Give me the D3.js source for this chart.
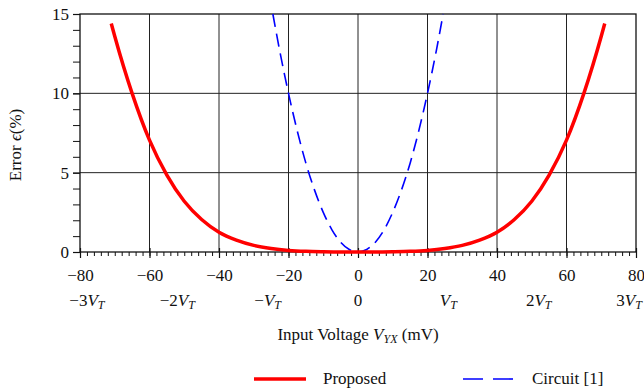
<!DOCTYPE html>
<html>
<head>
<meta charset="utf-8">
<script src="https://cdn.jsdelivr.net/npm/d3@7"></script>
<style>
  body { margin: 0; background: #fff; }
</style>
</head>
<body>
<div id="plot"></div>
<script>
// Data
const xTicks = [-80, -60, -40, -20, 0, 20, 40, 60, 80];
const yTicks = [0, 5, 10, 15];
const vtMultiples = [-3, -2, -1, 0, 1, 2, 3];   // second row of x labels
const vt = 26;                                   // thermal voltage, mV

const proposedX = [-71, -70, -65, -60, -55, -50, -45, -40, -35, -30, -25, -20, -15, -10, -5, 0,
                   5, 10, 15, 20, 25, 30, 35, 40, 45, 50, 55, 60, 65, 70, 71];
const proposedY = [14.4, 13.6, 10.0, 7.05, 4.85, 3.2, 2.05, 1.25, 0.75, 0.42, 0.22, 0.1, 0.04, 0.015, 0.004, 0,
                   0.004, 0.015, 0.04, 0.1, 0.22, 0.42, 0.75, 1.25, 2.05, 3.2, 4.85, 7.05, 10.0, 13.6, 14.4];

const circuitX = [-24.5, -22.5, -20, -17.5, -15, -12.5, -10, -7.5, -5, -2.5, 0,
                  2.5, 5, 7.5, 10, 12.5, 15, 17.5, 20, 22.5, 24.5];
const circuitY = [15.0, 12.65, 10.0, 7.65, 5.6, 3.9, 2.5, 1.4, 0.62, 0.16, 0,
                  0.16, 0.62, 1.4, 2.5, 3.9, 5.6, 7.65, 10.0, 12.65, 15.0];

const seriesNames = ["Proposed", "Circuit [1]"];

const width = 644, height = 392;
const padL = 80, padR = 636, padT = 14, padB = 252;
const fs = 17;
const fontStyle = `font-family: 'Liberation Serif', serif !important; font-size: ${fs}px !important;`;

const svg = d3.select("#plot").append("svg")
  .attr("width", width).attr("height", height);

const x = d3.scaleLinear().domain([-80, 80]).range([padL, padR]);
const y = d3.scaleLinear().domain([0, 15]).range([padB, padT]);

// grid
svg.append("g").selectAll("line")
  .data(xTicks.slice(1, -1)).enter().append("line")
  .attr("x1", d => x(d)).attr("x2", d => x(d))
  .attr("y1", padT).attr("y2", padB)
  .attr("stroke", "#222").attr("stroke-width", 1);
svg.append("g").selectAll("line")
  .data(yTicks.slice(1, -1)).enter().append("line")
  .attr("x1", padL).attr("x2", padR)
  .attr("y1", d => y(d)).attr("y2", d => y(d))
  .attr("stroke", "#222").attr("stroke-width", 1);

// x axis: minor ticks every 2, major ticks every 20
const xAxisG = svg.append("g").attr("transform", `translate(0,${padB})`);
xAxisG.call(d3.axisBottom(x).tickValues(d3.range(-80, 81, 2)).tickSize(4).tickFormat(""));
xAxisG.select(".domain").remove();
xAxisG.selectAll("line").attr("stroke", "#111").attr("stroke-width", 1);
const xMajor = svg.append("g").attr("transform", `translate(0,${padB})`);
xMajor.call(d3.axisBottom(x).tickValues(xTicks).tickSize(6).tickFormat(d => d < 0 ? "\u2212" + (-d) : d));
xMajor.select(".domain").remove();
xMajor.selectAll("line").attr("y1", -4).attr("stroke", "#111").attr("stroke-width", 1.2);
xMajor.selectAll("text").attr("y", 17).attr("fill", "#111");

// second row: multiples of V_T
const vtLabels = svg.append("g").attr("transform", `translate(0,${padB + 54})`)
  .selectAll("text").data(vtMultiples).enter().append("text")
  .attr("x", d => x(d * vt)).attr("text-anchor", "middle");
vtLabels.each(function(d) {
  const t = d3.select(this);
  if (d === 0) { t.text("0"); return; }
  let pre = d < 0 ? "\u2212" : "";
  if (Math.abs(d) > 1) pre += Math.abs(d);
  if (pre) t.append("tspan").text(pre);
  t.append("tspan").attr("font-style", "italic").text("V");
  t.append("tspan").attr("font-style", "italic").attr("class", "sub").attr("dy", 3).text("T");
});

// y axis: minor ticks every 1
const yAxisG = svg.append("g").attr("transform", `translate(${padL},0)`);
yAxisG.call(d3.axisLeft(y).tickValues(d3.range(0, 16, 1)).tickSize(7).tickFormat(""));
yAxisG.select(".domain").remove();
yAxisG.selectAll("line").attr("stroke", "#111").attr("stroke-width", 1);
const yMajor = svg.append("g").attr("transform", `translate(${padL},0)`);
yMajor.call(d3.axisLeft(y).tickValues(yTicks).tickSize(7));
yMajor.select(".domain").remove();
yMajor.selectAll("line").attr("stroke", "#111").attr("stroke-width", 1.2);
yMajor.selectAll("text").attr("x", -11).attr("fill", "#111");

// frame
svg.append("rect")
  .attr("x", padL).attr("y", padT).attr("width", padR - padL).attr("height", padB - padT)
  .attr("fill", "none").attr("stroke", "#111").attr("stroke-width", 1.3);

// curves
const line = d3.line().x(d => x(d[0])).y(d => y(d[1])).curve(d3.curveMonotoneX);
svg.append("path")
  .datum(circuitX.map((v, i) => [v, circuitY[i]]))
  .attr("d", line).attr("fill", "none")
  .attr("stroke", "#0000ff").attr("stroke-width", 1.6).attr("stroke-dasharray", "13,7");
svg.append("path")
  .datum(proposedX.map((v, i) => [v, proposedY[i]]))
  .attr("d", line).attr("fill", "none")
  .attr("stroke", "#ff0000").attr("stroke-width", 3.5);

// axis titles
const xTitle = svg.append("text").attr("x", x(0)).attr("y", 340)
  .attr("text-anchor", "middle");
xTitle.append("tspan").text("Input Voltage ");
xTitle.append("tspan").attr("font-style", "italic").text("V");
xTitle.append("tspan").attr("font-style", "italic").attr("class", "sub").attr("dy", 3).text("YX");
xTitle.append("tspan").attr("dy", -3).text(" (mV)");

const yTitle = svg.append("text")
  .attr("transform", `translate(21,${(padT + padB) / 2 + 12}) rotate(-90)`)
  .attr("text-anchor", "middle");
yTitle.append("tspan").text("Error ");
yTitle.append("tspan").attr("font-style", "italic").text("\u03f5");
yTitle.append("tspan").text("(%)");

// legend
const legend = svg.append("g").attr("transform", "translate(0,379)");
const legendItems = [
  { x0: 254, color: "#ff0000", w: 3.5, dash: null },
  { x0: 463, color: "#0000ff", w: 1.6, dash: "20,10" }
];
legendItems.forEach((it, i) => {
  legend.append("line")
    .attr("x1", it.x0).attr("x2", it.x0 + 52).attr("y1", 0).attr("y2", 0)
    .attr("stroke", it.color).attr("stroke-width", it.w)
    .attr("stroke-dasharray", it.dash);
  legend.append("text").attr("x", it.x0 + 69).attr("y", 5).text(seriesNames[i]);
});

// serif everywhere, set inline on each text node
svg.selectAll("text").attr("style", fontStyle).attr("fill", "#111");
svg.selectAll("tspan.sub").attr("style", "font-size: 12px !important;");
</script>
</body>
</html>
